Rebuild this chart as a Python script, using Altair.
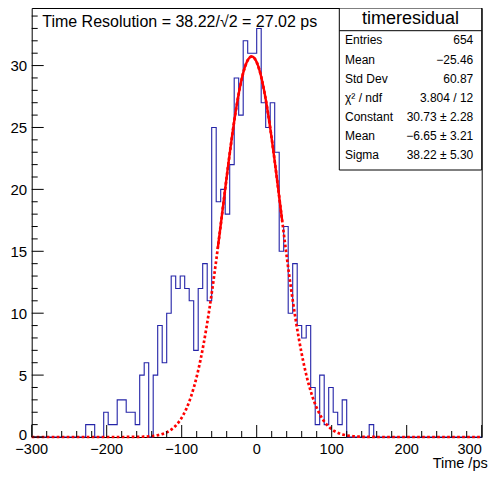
import altair as alt
import numpy as np
import pandas as pd

# ---- histogram (100 bins of 6 ps from -300 to 300) ----
BIN_LOW = -300
BIN_WIDTH = 6
counts = [
    0, 0, 0, 0, 0, 0, 0, 0, 0, 0,          # -300 .. -240
    0, 0, 1, 1, 0, 0, 2, 1, 1, 3,          # -240 .. -180
    3, 2, 2, 1, 5, 6, 0, 5, 9, 6,          # -180 .. -120
    10, 13, 12, 13, 12, 11, 7, 12, 14, 11,  # -120 .. -60
    25, 19, 20, 18, 22, 29, 26, 32, 31, 31,  # -60 .. 0
    33, 27, 25, 27, 23, 15, 17, 10, 14, 9,   # 0 .. 60
    8, 9, 4, 1, 5, 1, 4, 2, 1, 3,           # 60 .. 120
    0, 0, 0, 0, 0, 1, 0, 0, 0, 0,           # 120 .. 180
    0, 0, 0, 0, 0, 0, 0, 0, 0, 0,           # 180 .. 240
    0, 0, 0, 0, 0, 0, 0, 0, 0, 0,           # 240 .. 300
]

# ---- gaussian fit parameters (from stats box) ----
fit_constant = 30.73
fit_mean = -6.65
fit_sigma = 38.22
fit_range = [-52, 34]

# ---- axes ----
x_domain = [-300, 300]
y_domain = [0, 34.65]
x_major = [-300, -200, -100, 0, 100, 200, 300]
x_minor = [v for v in range(-300, 301, 20) if v % 100 != 0]
y_major = [0, 5, 10, 15, 20, 25, 30]
y_minor = [v for v in range(0, 35) if v % 5 != 0]

title_text = "Time Resolution = 38.22/\u221a2 = 27.02 ps"
x_title = "Time /ps"
stats_title = "timeresidual"
stats_labels = ["Entries", "Mean", "Std Dev", "\u03c7\u00b2 / ndf", "Constant", "Mean", "Sigma"]
stats_values = ["654", "\u221225.46", "60.87", "3.804 / 12",
                "30.73 \u00b1 2.28", "\u22126.65 \u00b1 3.21", "38.22 \u00b1 5.30"]

W, H = 450, 429
FONT = "Liberation Sans"

# ---- data tables ----
edges = [BIN_LOW + BIN_WIDTH * k for k in range(len(counts) + 1)]
hist_df = pd.DataFrame({"x": edges, "y": counts + [counts[-1]]})


def gauss(x):
    return fit_constant * np.exp(-0.5 * ((x - fit_mean) / fit_sigma) ** 2)


xd = np.linspace(x_domain[0], x_domain[1], 1201)
dot_df = pd.DataFrame({"x": xd, "y": gauss(xd)})
xs = np.linspace(fit_range[0], fit_range[1], 400)
solid_df = pd.DataFrame({"x": xs, "y": gauss(xs)})

xscale = alt.Scale(domain=x_domain, nice=False, zero=False)
yscale = alt.Scale(domain=y_domain, nice=False, zero=False)

xaxis = alt.Axis(values=x_major, tickSize=0, domain=False, grid=False,
                 labels=False, title="")
yaxis = alt.Axis(values=y_major, tickSize=0, domain=False, grid=False,
                 labelFont=FONT, labelFontSize=15, labelColor="black",
                 labelPadding=5, labelFlush=False, labelOverlap=False, title="",
                 labelOffset={"condition": {"test": "datum.value === 0", "value": -3}, "value": 0})

xenc = alt.X("x:Q", scale=xscale, axis=xaxis)
yenc = alt.Y("y:Q", scale=yscale, axis=yaxis)

hist = alt.Chart(hist_df).mark_line(
    interpolate="step-after", color="#2424a8", strokeWidth=1.1
).encode(x=xenc, y=yenc)

fit_dotted = alt.Chart(dot_df).mark_line(
    color="#ff0000", strokeWidth=2.7, strokeDash=[2.7, 2.3]
).encode(x=xenc, y=yenc)

fit_solid = alt.Chart(solid_df).mark_line(
    color="#ff0000", strokeWidth=2.4
).encode(x=xenc, y=yenc)

tick_col = "#000000"
xmaj = alt.Chart(pd.DataFrame({"x": x_major})).mark_rule(color=tick_col, strokeWidth=1).encode(
    x=xenc, y=alt.value(H), y2=alt.value(H - 12))
xmin = alt.Chart(pd.DataFrame({"x": x_minor})).mark_rule(color=tick_col, strokeWidth=1).encode(
    x=xenc, y=alt.value(H), y2=alt.value(H - 6))
ymaj = alt.Chart(pd.DataFrame({"y": y_major})).mark_rule(color=tick_col, strokeWidth=1).encode(
    y=yenc, x=alt.value(0), x2=alt.value(12))
ymin = alt.Chart(pd.DataFrame({"y": y_minor})).mark_rule(color=tick_col, strokeWidth=1).encode(
    y=yenc, x=alt.value(0), x2=alt.value(6))

# x tick labels (last one nudged left so it stays on the page)
xlab_df = pd.DataFrame({"x": x_major})
xlab_inner = alt.Chart(xlab_df).transform_filter("datum.x < 300").mark_text(
    font=FONT, fontSize=14.5, align="center", baseline="alphabetic", color="black"
).encode(x=xenc, y=alt.value(H + 16.5), text=alt.Text("x:Q", format="d"))
xlab_last = alt.Chart(xlab_df).transform_filter("datum.x >= 300").mark_text(
    font=FONT, fontSize=14.5, align="right", baseline="alphabetic", color="black"
).encode(x=xenc, y=alt.value(H + 16.5), text=alt.Text("x:Q", format="d"))

one = pd.DataFrame({"a": [0]})

xtitle = alt.Chart(one).mark_text(
    text=x_title, font=FONT, fontSize=14.5, align="right", baseline="alphabetic", color="black"
).encode(x=alt.value(W + 6), y=alt.value(H + 31))

title = alt.Chart(one).mark_text(
    text=title_text, font=FONT, fontSize=16, align="left", baseline="alphabetic", color="black"
).encode(x=alt.value(10.5), y=alt.value(18.5))

BOX_L, BOX_R, BOX_T, BOX_B = 307.6, W, 0, 162
box = alt.Chart(one).mark_rect(fill="white", stroke="black", strokeWidth=1).encode(
    x=alt.value(BOX_L), x2=alt.value(BOX_R), y=alt.value(BOX_T), y2=alt.value(BOX_B))
sep = alt.Chart(one).mark_rule(color="black", strokeWidth=1).encode(
    x=alt.value(BOX_L), x2=alt.value(BOX_R), y=alt.value(22.7))
box_title = alt.Chart(one).mark_text(
    text=stats_title, font=FONT, fontSize=18, align="center", baseline="alphabetic", color="black"
).encode(x=alt.value((BOX_L + BOX_R) / 2), y=alt.value(15.5))

stat_layers = []
for i, (lab, val) in enumerate(zip(stats_labels, stats_values)):
    yy = 32 + 19.17 * i + 4.4
    stat_layers.append(alt.Chart(one).mark_text(
        text=lab, font=FONT, fontSize=12, align="left", baseline="alphabetic", color="black"
    ).encode(x=alt.value(313.3), y=alt.value(yy)))
    stat_layers.append(alt.Chart(one).mark_text(
        text=val, font=FONT, fontSize=12, align="right", baseline="alphabetic", color="black"
    ).encode(x=alt.value(441.6), y=alt.value(yy)))

chart = alt.layer(
    hist, fit_dotted, fit_solid, xmaj, xmin, ymaj, ymin, xlab_inner, xlab_last, xtitle,
    title, box, sep, box_title, *stat_layers
).properties(
    width=W, height=H,
    padding={"left": 23.7, "top": 0, "right": 6.3, "bottom": 34},
    autosize=alt.AutoSizeParams(type="none"),
    background="white",
).configure_view(stroke="black", strokeWidth=1)

chart.save("out.html", embed_options={"renderer": "svg", "actions": False})
